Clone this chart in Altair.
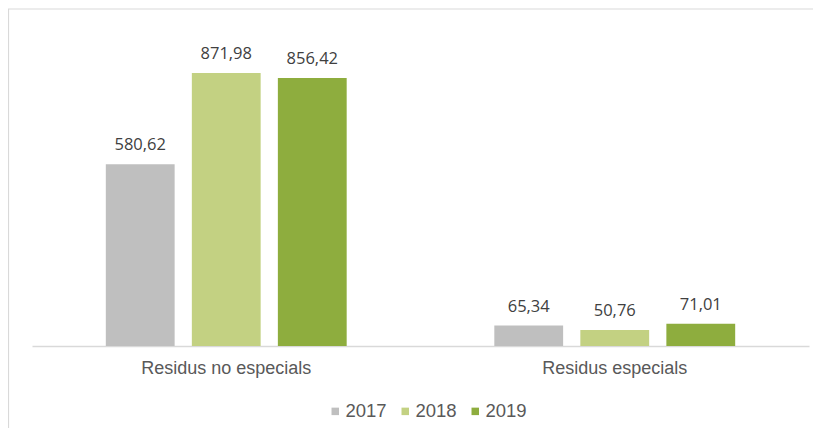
import altair as alt
import pandas as pd

categories = ["Residus no especials", "Residus especials"]
years = ["2017", "2018", "2019"]
values_2017 = [580.62, 65.34]
values_2018 = [871.98, 50.76]
values_2019 = [856.42, 71.01]
colors = ["#BFBFBF", "#C3D182", "#8EAD3E"]

rows = []
for yr, vals in zip(years, [values_2017, values_2018, values_2019]):
    for cat, v in zip(categories, vals):
        rows.append({"cat": cat, "year": yr, "value": v,
                     "label": f"{v:.2f}".replace(".", ",")})
df = pd.DataFrame(rows)

x_enc = alt.X("cat:N", sort=categories, title=None,
              scale=alt.Scale(paddingInner=0.38, paddingOuter=0.19),
              axis=alt.Axis(labelAngle=0, tickSize=0, labelPadding=13,
                            labelFont="Liberation Sans", labelFontSize=18,
                            labelColor="#595959", domainColor="#D9D9D9",
                            domainWidth=1.3, grid=False))
xoff = alt.XOffset("year:N", sort=years,
                   scale=alt.Scale(paddingInner=0.2, paddingOuter=0))
y_enc = alt.Y("value:Q", scale=alt.Scale(domain=[0, 1000]), axis=None)

base = alt.Chart(df)

bars = base.mark_bar().encode(
    x=x_enc, xOffset=xoff, y=y_enc,
    color=alt.Color("year:N", sort=years,
                    scale=alt.Scale(domain=years, range=colors),
                    legend=alt.Legend(title=None, orient="none", direction="horizontal",
                                      legendX=294, legendY=369,
                                      symbolType="square", symbolSize=56,
                                      symbolStrokeWidth=0, labelOffset=1,
                                      columnPadding=9,
                                      labelFont="Liberation Sans", labelFontSize=18.5,
                                      labelColor="#595959")),
)

labels = base.mark_text(font="Open Sans", fontSize=16.5, color="#404040",
                        baseline="alphabetic", dy=-14).encode(
    x=x_enc, xOffset=xoff, y=y_enc, text="label:N"
)

frame_df = pd.DataFrame({"f": [0]})
frame = alt.Chart(frame_df).mark_rect(fill=None, stroke="#D9D9D9", strokeWidth=1.2).encode(
    x=alt.value(-23.5), x2=alt.value(900), y=alt.value(-24), y2=alt.value(600)
)

chart = alt.layer(frame, bars, labels).properties(
    width=777, height=313,
    padding={"left": 24, "top": 25, "right": 4, "bottom": 82},
    autosize=alt.AutoSizeParams(type="none"),
    background="white",
).configure_view(stroke=None)

chart.save("out.html", embed_options={"renderer": "svg", "actions": False})
